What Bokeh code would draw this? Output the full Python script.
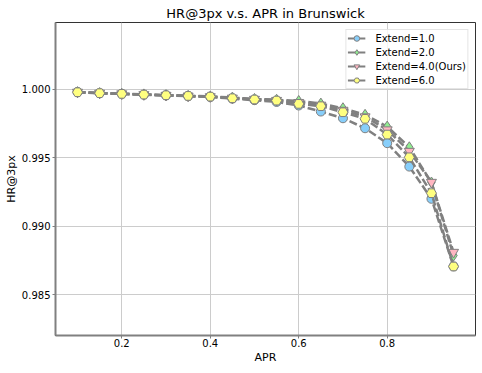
from bokeh.plotting import figure
from bokeh.models import Range1d, FixedTicker, Legend, LegendItem, NumeralTickFormatter
from bokeh.embed import file_html
from bokeh.resources import INLINE

apr = [0.10, 0.15, 0.20, 0.25, 0.30, 0.35, 0.40, 0.45, 0.50, 0.55, 0.60, 0.65, 0.70, 0.75, 0.80, 0.85, 0.90, 0.95]

ext1 = [0.99980, 0.99972, 0.99967, 0.99961, 0.99956, 0.99950, 0.99944, 0.99932, 0.99921, 0.99908, 0.99882, 0.99838, 0.99789, 0.99716, 0.99607, 0.99436, 0.99201, 0.98707]
ext2 = [0.99980, 0.99973, 0.99968, 0.99963, 0.99958, 0.99953, 0.99948, 0.99940, 0.99930, 0.99924, 0.99915, 0.99896, 0.99862, 0.99814, 0.99728, 0.99577, 0.99320, 0.98787]
ext4 = [0.99980, 0.99973, 0.99968, 0.99962, 0.99957, 0.99952, 0.99947, 0.99937, 0.99928, 0.99920, 0.99905, 0.99885, 0.99848, 0.99800, 0.99705, 0.99548, 0.99322, 0.98811]
ext6 = [0.99979, 0.99972, 0.99967, 0.99962, 0.99957, 0.99952, 0.99947, 0.99935, 0.99926, 0.99918, 0.99894, 0.99877, 0.99833, 0.99785, 0.99670, 0.99504, 0.99242, 0.98707]

labels = ["Extend=1.0", "Extend=2.0", "Extend=4.0(Ours)", "Extend=6.0"]
x_ticks = [0.2, 0.4, 0.6, 0.8]
y_ticks = [0.985, 0.990, 0.995, 1.000]

series = [ext1, ext2, ext4, ext6]
markers = ["circle", "diamond", "inverted_triangle", "hex"]
colors = ["#87cefa", "#90ee90", "#ffb6c1", "#ffff80"]
sizes = [9, 11, 10, 10]

p = figure(frame_width=420, frame_height=313, output_backend="svg", toolbar_location=None,
           x_range=Range1d(0.0502, 0.9996), y_range=Range1d(0.98203, 1.00488),
           min_border_left=55, min_border_right=7, min_border_top=22, min_border_bottom=0)

p.title.text = "HR@3px v.s. APR in Brunswick"
p.title.align = "center"
p.title.text_font = "DejaVu Sans"
p.title.text_font_size = "13px"
p.title.text_font_style = "normal"
p.title.text_color = "black"
p.title.standoff = 3
p.title.offset = 0

p.xaxis.ticker = FixedTicker(ticks=x_ticks)
p.yaxis.ticker = FixedTicker(ticks=y_ticks)
p.xaxis.formatter = NumeralTickFormatter(format="0.0")
p.yaxis.formatter = NumeralTickFormatter(format="0.000")
p.xaxis.axis_label = "APR"
p.yaxis.axis_label = "HR@3px"
for ax in (p.xaxis, p.yaxis):
    ax.axis_label_text_font = "DejaVu Sans"
    ax.axis_label_text_font_size = "11px"
    ax.axis_label_text_font_style = "normal"
    ax.axis_label_text_color = "black"
    ax.major_label_text_font = "DejaVu Sans"
    ax.major_label_text_font_size = "10px"
    ax.major_label_text_color = "black"
    ax.major_tick_in = 0
    ax.minor_tick_out = 0
    ax.minor_tick_in = 0
    ax.axis_line_color = "#808080"
    ax.axis_line_width = 2
    ax.major_tick_line_color = "#808080"
p.xaxis.major_tick_out = 3
p.xaxis.major_label_standoff = 0
p.xaxis.axis_label_standoff = 1
p.yaxis.major_tick_out = 3
p.yaxis.major_label_standoff = 2
p.yaxis.axis_label_standoff = 1
p.outline_line_color = "#333333"
p.outline_line_width = 1
p.grid.grid_line_color = "#cccccc"
p.grid.grid_line_width = 1

items = []
for ys, m, c, s, lab in zip(series, markers, colors, sizes, labels):
    p.line(apr, ys, line_color="#808080", line_width=2.5, line_dash="8 3")
    sr = p.scatter(apr, ys, marker=m, size=s, fill_color=c, line_color="#808080", line_width=1)
    # hidden solid line, used only for the legend swatch
    lr = p.line(apr, ys, line_color="#808080", line_width=2, visible=False)
    items.append(LegendItem(label=lab, renderers=[lr, sr]))

legend = Legend(items=items, location="top_right")
legend.label_text_font = "DejaVu Sans"
legend.label_text_font_size = "10px"
legend.label_text_color = "black"
legend.label_height = 14
legend.glyph_height = 14
legend.glyph_width = 18
legend.label_standoff = 10
legend.spacing = 0
legend.padding = 1
legend.margin = 7
legend.border_line_color = "#cccccc"
legend.background_fill_alpha = 0.8
legend.inactive_fill_alpha = 0
p.add_layout(legend)

open("out.html", "w").write(file_html(p, INLINE))
